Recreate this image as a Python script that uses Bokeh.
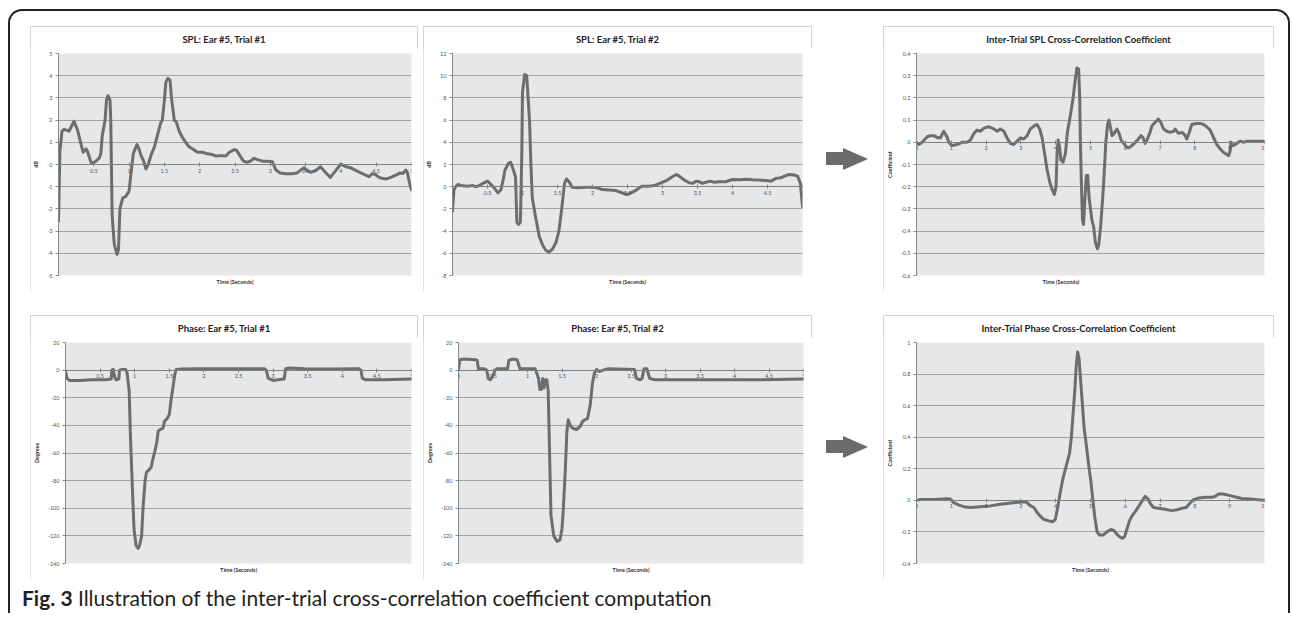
from bokeh.plotting import figure
from bokeh.models import Range1d, FixedTicker, NumeralTickFormatter, Title, Div, Spacer
from bokeh.layouts import row, column
from bokeh.embed import file_html
from bokeh.resources import INLINE

# ---------------- data ----------------
spl1_t = [0, 0.02, 0.05, 0.08, 0.15, 0.22, 0.27, 0.32, 0.35, 0.39, 0.41, 0.46, 0.48, 0.53, 0.58, 0.6,
          0.62, 0.66, 0.68, 0.70, 0.73, 0.74, 0.76, 0.79, 0.83, 0.85, 0.87, 0.91, 0.95, 1.0, 1.02,
          1.06, 1.11, 1.14, 1.17, 1.2, 1.24, 1.27, 1.32, 1.36, 1.4, 1.45, 1.47, 1.5, 1.52, 1.55,
          1.58, 1.6, 1.64, 1.67, 1.71, 1.75, 1.8, 1.85, 1.9, 1.97, 2.04, 2.11, 2.18, 2.23, 2.3,
          2.37, 2.42, 2.49, 2.52, 2.57, 2.62, 2.67, 2.72, 2.77, 2.82, 2.89, 2.96, 3.03, 3.08, 3.14,
          3.22, 3.31, 3.38, 3.43, 3.48, 3.51, 3.57, 3.64, 3.71, 3.78, 3.85, 3.92, 4.0, 4.07, 4.14,
          4.23, 4.33, 4.4, 4.44, 4.49, 4.54, 4.58, 4.65, 4.73, 4.8, 4.84, 4.88, 4.92, 4.94, 4.97, 5.0]
spl1_v = [-2.55, 0.6, 1.5, 1.58, 1.5, 1.95, 1.55, 0.9, 0.55, 0.7, 0.6, 0.1, 0.05, 0.15, 0.3, 0.5,
          1.3, 2.0, 2.9, 3.1, 2.9, 2.0, -2.3, -3.6, -4.05, -3.8, -2.0, -1.5, -1.45, -1.2, -0.6,
          0.5, 0.9, 0.7, 0.4, 0.2, -0.2, 0.0, 0.5, 0.8, 1.3, 1.9, 2.0, 2.9, 3.7, 3.88,
          3.8, 3.0, 2.0, 1.9, 1.5, 1.25, 1.0, 0.8, 0.7, 0.55, 0.55, 0.48, 0.45, 0.38, 0.4,
          0.38, 0.55, 0.67, 0.65, 0.4, 0.15, 0.1, 0.15, 0.28, 0.22, 0.15, 0.15, 0.12, -0.25, -0.38,
          -0.42, -0.42, -0.38, -0.25, -0.15, -0.25, -0.35, -0.28, -0.1, -0.35, -0.58, -0.3, 0.02, -0.1, -0.15,
          -0.3, -0.45, -0.55, -0.42, -0.45, -0.58, -0.62, -0.65, -0.55, -0.45, -0.38, -0.4, -0.25, -0.35, -0.8, -1.15]

spl2_t = [0, 0.02, 0.05, 0.08, 0.14, 0.21, 0.29, 0.33, 0.38, 0.45, 0.5, 0.55, 0.6, 0.65, 0.69, 0.72,
          0.75, 0.8, 0.83, 0.86, 0.9, 0.92, 0.94, 0.97, 0.99, 1.0, 1.03, 1.06, 1.08, 1.1, 1.12, 1.14,
          1.18, 1.21, 1.24, 1.29, 1.33, 1.38, 1.43, 1.48, 1.52, 1.56, 1.6, 1.63, 1.67, 1.71, 1.79,
          1.88, 1.98, 2.07, 2.14, 2.24, 2.33, 2.4, 2.48, 2.52, 2.6, 2.67, 2.71, 2.81, 2.88, 2.98,
          3.07, 3.14, 3.2, 3.24, 3.31, 3.38, 3.43, 3.48, 3.52, 3.57, 3.62, 3.68, 3.74, 3.81, 3.9,
          4.0, 4.1, 4.19, 4.29, 4.38, 4.48, 4.55, 4.62, 4.69, 4.76, 4.81, 4.88, 4.93, 4.97, 5.0]
spl2_v = [-2.2, -0.3, 0.05, 0.2, 0.08, 0.05, 0.1, 0.0, 0.1, 0.35, 0.5, 0.2, -0.15, -0.55, -0.3, 0.5,
          1.5, 2.1, 2.2, 1.7, 0.9, -3.2, -3.4, -3.2, 3.0, 8.5, 10.1, 10.0, 8.0, 6.0, 2.0, -1.0,
          -2.5, -3.5, -4.5, -5.3, -5.7, -5.9, -5.6, -5.0, -4.0, -2.0, 0.3, 0.7, 0.4, -0.05, -0.1,
          -0.05, -0.05, -0.1, -0.25, -0.3, -0.35, -0.5, -0.7, -0.65, -0.4, -0.1, 0.05, 0.05, 0.1, 0.35,
          0.6, 0.9, 1.1, 0.95, 0.6, 0.35, 0.3, 0.5, 0.45, 0.3, 0.4, 0.5, 0.4, 0.45, 0.45,
          0.65, 0.62, 0.68, 0.62, 0.6, 0.55, 0.5, 0.75, 0.8, 1.0, 1.1, 1.05, 0.95, 0.3, -1.8]

xspl_t = [0, 0.07, 0.16, 0.31, 0.4, 0.5, 0.61, 0.69, 0.78, 0.86, 0.93, 1.02, 1.17, 1.31, 1.45, 1.55,
          1.65, 1.74, 1.84, 1.95, 2.08, 2.22, 2.32, 2.41, 2.51, 2.6, 2.7, 2.79, 2.89, 2.99, 3.08,
          3.18, 3.27, 3.39, 3.46, 3.54, 3.61, 3.68, 3.75, 3.83, 3.89, 3.96, 4.01, 4.04, 4.07, 4.11,
          4.15, 4.21, 4.28, 4.34, 4.42, 4.5, 4.56, 4.61, 4.66, 4.69, 4.71, 4.74, 4.77, 4.8, 4.84,
          4.88, 4.92, 4.96, 5.0, 5.04, 5.09, 5.14, 5.2, 5.24, 5.29, 5.35, 5.39, 5.44, 5.49, 5.53,
          5.57, 5.62, 5.68, 5.76, 5.82, 5.88, 5.95, 6.03, 6.1, 6.19, 6.29, 6.38, 6.45, 6.51, 6.57,
          6.62, 6.7, 6.77, 6.86, 6.95, 7.02, 7.1, 7.19, 7.29, 7.39, 7.43, 7.53, 7.63, 7.7, 7.77,
          7.85, 7.91, 8.04, 8.15, 8.25, 8.34, 8.44, 8.54, 8.63, 8.73, 8.82, 8.92, 8.97, 9.01, 9.04,
          9.09, 9.16, 9.25, 9.3, 9.4, 9.49, 9.63, 9.78, 9.92, 10.0]
xspl_v = [0.0, -0.01, 0.0, 0.025, 0.03, 0.03, 0.02, 0.02, 0.05, 0.03, 0.0, -0.015, -0.01, 0.0, 0.0, 0.01,
          0.04, 0.055, 0.05, 0.065, 0.07, 0.06, 0.05, 0.06, 0.05, 0.02, -0.005, -0.01, 0.005, 0.02, 0.015,
          0.03, 0.06, 0.075, 0.08, 0.06, 0.02, -0.05, -0.12, -0.18, -0.21, -0.235, -0.2, -0.05, 0.01, -0.02,
          -0.08, -0.09, -0.05, 0.05, 0.12, 0.2, 0.28, 0.335, 0.33, 0.2, 0.0, -0.2, -0.35, -0.37, -0.25,
          -0.15, -0.15, -0.25, -0.3, -0.35, -0.38, -0.45, -0.48, -0.46, -0.38, -0.25, -0.15, 0.0, 0.08, 0.1,
          0.07, 0.03, 0.04, 0.06, 0.04, 0.01, -0.005, -0.02, -0.025, -0.015, 0.0, 0.015, 0.03, 0.02, -0.005,
          0.01, 0.04, 0.075, 0.09, 0.105, 0.09, 0.06, 0.05, 0.045, 0.05, 0.06, 0.04, 0.045, 0.035, 0.015,
          0.05, 0.08, 0.085, 0.085, 0.08, 0.07, 0.055, 0.02, -0.01, -0.03, -0.045, -0.055, -0.06, -0.04, 0.0,
          -0.015, -0.01, 0.0, 0.005, 0.0, 0.005, 0.005, 0.005, 0.005, 0.005]

ph1_t = [0, 0.02, 0.06, 0.2, 0.39, 0.58, 0.66, 0.67, 0.69, 0.71, 0.73, 0.77, 0.78, 0.82, 0.87, 0.89,
         0.92, 0.94, 0.97, 0.99, 1.02, 1.05, 1.07, 1.1, 1.12, 1.15, 1.17, 1.21, 1.24, 1.26, 1.29,
         1.32, 1.34, 1.37, 1.41, 1.43, 1.47, 1.5, 1.53, 1.56, 1.58, 1.6, 1.68, 1.92, 2.4, 2.88,
         2.9, 2.93, 3.0, 3.07, 3.16, 3.18, 3.24, 3.45, 3.84, 4.24, 4.27, 4.29, 4.34, 4.6, 5.0]
ph1_v = [-1, -6, -7.5, -7.5, -7, -7, -6.5, 0, 0.5, -5, -7, -6.5, 0, 0.5, 0.5, -2,
         -15, -50, -90, -115, -127, -129, -127, -120, -100, -80, -74, -72, -70, -65, -59,
         -52, -44, -43, -42, -37, -35, -32, -20, -10, -3, 0.5, 0.8, 1, 1, 1,
         0, -6, -7.5, -7, -6.5, 1, 1.5, 1, 0.8, 1, 0, -6, -7, -7, -6.5]

ph2_t = [0, 0.02, 0.08, 0.25, 0.27, 0.29, 0.37, 0.41, 0.43, 0.46, 0.49, 0.53, 0.56, 0.71, 0.73, 0.78,
         0.85, 0.89, 1.02, 1.11, 1.14, 1.16, 1.18, 1.2, 1.22, 1.24, 1.26, 1.28, 1.3, 1.32, 1.34,
         1.38, 1.43, 1.47, 1.5, 1.52, 1.55, 1.57, 1.59, 1.62, 1.65, 1.71, 1.76, 1.8, 1.83, 1.87,
         1.91, 1.94, 1.97, 2.0, 2.04, 2.1, 2.17, 2.55, 2.58, 2.63, 2.66, 2.69, 2.73, 2.77, 2.84,
         3.32, 4.28, 5.0]
ph2_v = [0, 7.5, 8, 7.5, 7, 1, 1, 0, -6, -7, -5, 0, 1, 1, 7, 8,
         7.5, 1, 1, 1, -3, -6, -14, -14, -6, -13, -7, -7, -15, -60, -105,
         -120, -124, -123, -115, -100, -70, -45, -36, -40, -42, -43, -41, -37, -36, -35,
         -25, -10, -2, 0.5, -1, 0, 1, 0.5, -6, -7, -6, 1, 1, -6, -7,
         -7, -7, -6.5]

xph_t = [0, 0.11, 0.5, 0.88, 0.98, 1.07, 1.22, 1.36, 1.55, 1.84, 2.12, 2.41, 2.79, 3.03, 3.16, 3.25,
         3.37, 3.46, 3.56, 3.65, 3.8, 3.92, 3.99, 4.07, 4.13, 4.21, 4.28, 4.34, 4.4, 4.45, 4.5,
         4.55, 4.59, 4.63, 4.67, 4.71, 4.77, 4.82, 4.88, 4.95, 5.01, 5.07, 5.12, 5.19, 5.26, 5.36,
         5.42, 5.5, 5.59, 5.67, 5.76, 5.86, 5.92, 5.98, 6.05, 6.12, 6.19, 6.29, 6.38, 6.48, 6.57,
         6.65, 6.72, 6.81, 6.95, 7.1, 7.34, 7.48, 7.63, 7.75, 7.85, 7.96, 8.11, 8.3, 8.49, 8.58,
         8.68, 8.82, 9.01, 9.2, 9.35, 9.49, 9.68, 9.87, 10.0]
xph_v = [0, 0.005, 0.005, 0.01, 0.008, -0.015, -0.03, -0.04, -0.045, -0.04, -0.035, -0.025, -0.015, -0.01, -0.01, -0.03,
         -0.045, -0.075, -0.1, -0.12, -0.13, -0.135, -0.12, -0.03, 0.05, 0.14, 0.2, 0.25, 0.3, 0.4, 0.55,
         0.7, 0.85, 0.94, 0.9, 0.78, 0.6, 0.45, 0.35, 0.22, 0.12, 0.0, -0.1, -0.2, -0.22, -0.22,
         -0.21, -0.195, -0.185, -0.19, -0.215, -0.235, -0.24, -0.23, -0.18, -0.13, -0.1, -0.07, -0.04, -0.005, 0.025,
         0.01, -0.02, -0.045, -0.05, -0.055, -0.065, -0.06, -0.05, -0.045, -0.02, 0.005, 0.015, 0.02, 0.02, 0.025,
         0.04, 0.04, 0.03, 0.02, 0.012, 0.01, 0.007, 0.003, 0.0]

# tick positions
x_ticks_5 = [0, 0.5, 1, 1.5, 2, 2.5, 3, 3.5, 4, 4.5, 5]
x_ticks_10 = [0, 1, 2, 3, 4, 5, 6, 7, 8, 9, 10]
y_ticks_spl1 = [-5, -4, -3, -2, -1, 0, 1, 2, 3, 4, 5]
y_ticks_spl2 = [-8, -6, -4, -2, 0, 2, 4, 6, 8, 10, 12]
y_ticks_xspl = [-0.6, -0.5, -0.4, -0.3, -0.2, -0.1, 0, 0.1, 0.2, 0.3, 0.4]
y_ticks_ph = [-140, -120, -100, -80, -60, -40, -20, 0, 20]
y_ticks_xph = [-0.4, -0.2, 0, 0.2, 0.4, 0.6, 0.8, 1]

titles = ["SPL: Ear #5, Trial #1", "SPL: Ear #5, Trial #2", "Inter-Trial SPL Cross-Correlation Coefficient",
          "Phase: Ear #5, Trial #1", "Phase: Ear #5, Trial #2", "Inter-Trial Phase Cross-Correlation Coefficient"]
x_title = "Time (Seconds)"
caption_bold = "Fig. 3"
caption_text = "Illustration of the inter-trial cross-correlation coefficient computation"

FONT = "Lato"
LINE = "#6d6d6d"
TITLE_H = 22


def make_panel(title, t, v, xticks, yticks, ylabel, w, h, ml, mr, mt, mb, title_pad, xt_offset=None):
    x0, x1 = xticks[0], xticks[-1]
    y0, y1 = yticks[0], yticks[-1]
    p = figure(width=w, height=h - TITLE_H, x_range=Range1d(x0, x1), y_range=Range1d(y0, y1),
               output_backend="svg", toolbar_location=None,
               min_border_left=ml, min_border_right=mr, min_border_top=mt - TITLE_H,
               min_border_bottom=mb,
               background_fill_color="#e6e7e9", border_fill_color="white",
               outline_line_color=None)

    if xt_offset is None:
        xt = Title(text=x_title, align="center")
    else:
        xt = Title(text=x_title, align="left", offset=xt_offset)
    xt.text_font = FONT
    xt.text_font_size = "5.5px"
    xt.text_font_style = "bold"
    xt.text_color = "#333333"
    xt.standoff = 3
    p.add_layout(xt, "below")

    p.xgrid.visible = False
    p.ygrid.ticker = FixedTicker(ticks=yticks)
    p.ygrid.grid_line_color = "#a3a3a3"
    p.ygrid.grid_line_width = 1

    p.yaxis.ticker = FixedTicker(ticks=yticks)
    p.yaxis.formatter = NumeralTickFormatter(format="0.[0]")
    p.yaxis.axis_line_color = "#888888"
    p.yaxis.major_tick_line_color = "#888888"
    p.yaxis.major_tick_out = 3
    p.yaxis.major_tick_in = 0
    p.yaxis.minor_tick_line_color = None
    p.yaxis.major_label_text_font = FONT
    p.yaxis.major_label_text_font_size = "5.5px"
    p.yaxis.major_label_text_color = "#555555"
    p.yaxis.major_label_standoff = 3
    p.yaxis.axis_label = ylabel
    p.yaxis.axis_label_text_font = FONT
    p.yaxis.axis_label_text_font_size = "5.5px"
    p.yaxis.axis_label_text_font_style = "bold"
    p.yaxis.axis_label_text_color = "#333333"
    p.yaxis.axis_label_standoff = 5

    p.xaxis.fixed_location = 0
    p.xaxis.ticker = FixedTicker(ticks=xticks)
    p.xaxis.formatter = NumeralTickFormatter(format="0.[0]")
    p.xaxis.axis_line_color = "#808080"
    p.xaxis.major_tick_line_color = "#808080"
    p.xaxis.major_tick_out = 2
    p.xaxis.major_tick_in = 2
    p.xaxis.minor_tick_line_color = None
    p.xaxis.major_label_text_font = FONT
    p.xaxis.major_label_text_font_size = "5.5px"
    p.xaxis.major_label_text_color = "#555555"
    p.xaxis.major_label_standoff = 2

    p.line(t, v, line_color=LINE, line_width=3, line_join="round", line_cap="round")

    head = Div(text=title, width=w, height=TITLE_H,
               styles={"margin": "0", "padding": "0", "width": "%dpx" % w,
                       "text-align": "center", "font-family": FONT, "font-weight": "bold",
                       "font-size": "9.5px", "line-height": "12px", "color": "#222222",
                       "padding-top": "%spx" % title_pad, "box-sizing": "border-box"})
    return column(head, p, styles={"outline": "1px solid #d4d4d4", "outline-offset": "-1px",
                                   "background": "white"})


ROW1_H = 265
ROW2_H = 264

c1 = make_panel(titles[0], spl1_t, spl1_v, x_ticks_5, y_ticks_spl1, "dB", 388, ROW1_H, 28, 7, 27, 16, 8)
c2 = make_panel(titles[1], spl2_t, spl2_v, x_ticks_5, y_ticks_spl2, "dB", 389, ROW1_H, 29, 10, 27, 16, 8)
c3 = make_panel(titles[2], xspl_t, xspl_v, x_ticks_10, y_ticks_xspl, "Coefficient", 391, ROW1_H, 33, 10, 27,
                16, 8, xt_offset=126)
c4 = make_panel(titles[3], ph1_t, ph1_v, x_ticks_5, y_ticks_ph, "Degrees", 388, ROW2_H, 33, 7, 27, 16, 7.5)
c5 = make_panel(titles[4], ph2_t, ph2_v, x_ticks_5, y_ticks_ph, "Degrees", 389, ROW2_H, 33, 9, 27, 16, 7.5)
c6 = make_panel(titles[5], xph_t, xph_v, x_ticks_10, y_ticks_xph, "Coefficient", 391, ROW2_H, 33, 10, 27,
                16, 7.5)


def arrow(h, top):
    html = ('<div style="margin-top:%dpx;display:flex;align-items:center;height:23px">'
            '<div style="width:17px;height:13px;background:#6b6b6b"></div>'
            '<div style="width:0;height:0;border-top:11px solid transparent;'
            'border-bottom:11px solid transparent;border-left:25px solid #6b6b6b"></div>'
            '</div>') % top
    return Div(text=html, width=42, height=h, styles={"margin": "0", "padding": "0"})


row1 = row(Spacer(width=20), c1, Spacer(width=5), c2, Spacer(width=14), arrow(ROW1_H, 121),
           Spacer(width=15), c3, Spacer(width=14))
row2 = row(Spacer(width=20), c4, Spacer(width=5), c5, Spacer(width=14), arrow(ROW2_H, 120),
           Spacer(width=15), c6, Spacer(width=14))

caption = Div(text='<span style="font-weight:bold">%s</span> %s' % (caption_bold, caption_text),
              width=900, height=28,
              styles={"font-family": "Lato", "font-size": "21px", "color": "#231f20",
                      "margin": "0", "padding": "0", "line-height": "26px"})

frame = column(Spacer(height=15), row1, Spacer(height=24), row2, Spacer(height=6),
               row(Spacer(width=12), caption),
               styles={"border-top": "2px solid #222", "border-left": "2px solid #222",
                       "border-right": "2px solid #222", "border-top-left-radius": "14px",
                       "border-top-right-radius": "14px", "background": "white"})

root = column(Spacer(height=9), row(Spacer(width=8), frame), styles={"background": "white"})

open("out.html", "w").write(file_html(root, INLINE))
